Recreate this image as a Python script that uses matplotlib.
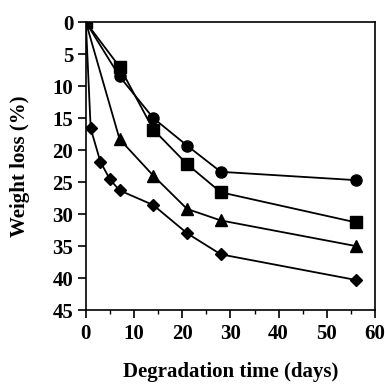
import matplotlib
matplotlib.use("Agg")
import matplotlib.pyplot as plt
from matplotlib.ticker import MultipleLocator

days_circle = [0, 7, 14, 21, 28, 56]
loss_circle = [0, 8.5, 15.0, 19.3, 23.4, 24.7]
days_square = [0, 7, 14, 21, 28, 56]
loss_square = [0, 7.0, 16.8, 22.2, 26.6, 31.3]
days_triangle = [0, 7, 14, 21, 28, 56]
loss_triangle = [0, 18.3, 24.0, 29.2, 31.0, 35.0]
days_diamond = [0, 1, 3, 5, 7, 14, 21, 28, 56]
loss_diamond = [0, 16.6, 21.8, 24.6, 26.3, 28.6, 33.0, 36.3, 40.3]

plt.rcParams['font.family'] = ['Liberation Serif', 'DejaVu Serif']
plt.rcParams['font.weight'] = 'bold'

fig = plt.figure(figsize=(3.85, 3.88), dpi=100)
ax = fig.add_axes([0.223, 0.201, 0.751, 0.742])

kw = dict(color='black', lw=1.3, markersize=8)
ax.plot(days_circle, loss_circle, marker='o', **kw)
ax.plot(days_square, loss_square, marker='s', **kw)
ax.plot(days_triangle, loss_triangle, marker='^', **kw)
ax.plot(days_diamond, loss_diamond, marker='D', color='black', lw=1.3, markersize=6)

ax.set_xlim(0, 60)
ax.set_ylim(45, 0)
ax.xaxis.set_major_locator(MultipleLocator(10))
ax.xaxis.set_minor_locator(MultipleLocator(5))
ax.yaxis.set_major_locator(MultipleLocator(5))
ax.tick_params(axis='both', which='major', direction='out', length=6, width=1.2,
               labelsize=15)
ax.tick_params(axis='x', which='major', pad=4)
ax.tick_params(axis='y', which='major', pad=3)
ax.tick_params(axis='x', which='minor', direction='out', length=3, width=1)
for s in ax.spines.values():
    s.set_linewidth(1.2)
for lab in ax.get_xticklabels() + ax.get_yticklabels():
    lab.set_fontweight('bold')

ax.set_xlabel('Degradation time (days)', fontsize=15, fontweight='bold', labelpad=13)
ax.set_ylabel('Weight loss (%)', fontsize=15, fontweight='bold', labelpad=16)

fig.savefig('out.png', dpi=100)
